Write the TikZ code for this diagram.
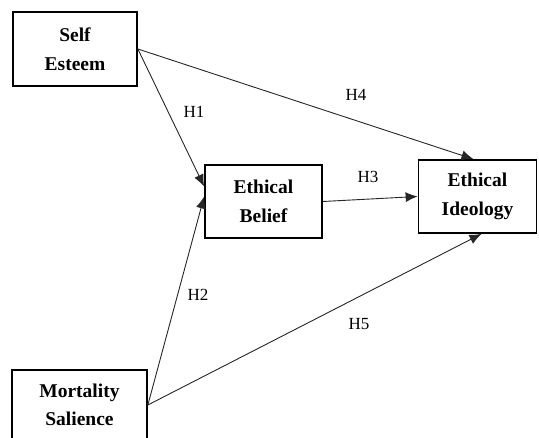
\documentclass[tikz,border=0pt]{standalone}
\usepackage{fontspec}
\setmainfont{Liberation Serif}
\usetikzlibrary{arrows.meta,calc}
\begin{document}
\begin{tikzpicture}[x=1pt,y=-1pt,
  construct/.style={draw=black,line width=1.7pt,inner sep=0pt,align=center,
    font=\bfseries\fontsize{19.5}{28.5}\selectfont},
  path/.style={draw=black!85,line width=0.9pt,-{Latex[length=12pt,width=10pt]}},
  hyp/.style={font=\fontsize{17}{19}\selectfont,inner sep=1pt}]
\useasboundingbox (0,0) rectangle (539,438);
\clip (0,0) rectangle (539,438);
\node[construct,minimum width=124pt,minimum height=74pt] (se) at (75,49) {Self\\Esteem};
\node[construct,minimum width=117pt,minimum height=73pt] (eb) at (263.5,201.5) {Ethical\\Belief};
\node[construct,minimum width=118pt,minimum height=73pt] (ei) at (477.5,196.5) {Ethical\\Ideology};
\node[construct,minimum width=135pt,minimum height=70pt] (mo) at (79.5,405) {Mortality\\Salience};
\draw[path] (se.east) -- ($(eb.west)+(0,-15)$);
\draw[path] (se.east) -- ($(ei.north)+(-4,0)$);
\draw[path] (eb.east) -- (ei.west);
\draw[path] (mo.east) -- ($(eb.west)+(0,-5)$);
\draw[path] (mo.east) -- ($(ei.south)+(4,0)$);
\node[hyp] (h1) at (194,112) {H1};
\node[hyp] (h2) at (198,295) {H2};
\node[hyp] (h3) at (368,177) {H3};
\node[hyp] (h4) at (356,95) {H4};
\node[hyp] (h5) at (359,324) {H5};
\end{tikzpicture}
\end{document}
